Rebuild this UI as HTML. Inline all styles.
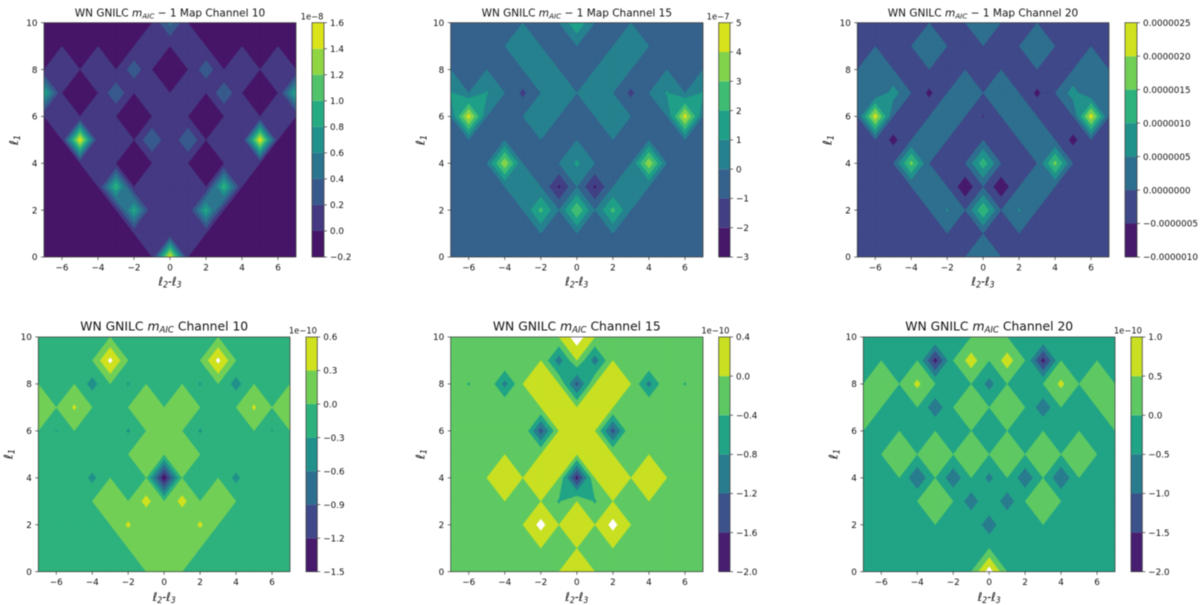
<!DOCTYPE html>
<html lang="en">
<head>
<meta charset="utf-8">
<title>WN GNILC maps</title>
<style>
html,body{margin:0;padding:0;background:#fff;width:1200px;height:605px;overflow:hidden}
svg{display:block;filter:blur(0.4px)}
text{font-family:"DejaVu Sans","Liberation Sans",sans-serif;fill:#111;white-space:pre}
.title-top{font-size:10.5px}
.title-bottom{font-size:12.35px}
.ax{font-size:12px;font-style:italic}
.off{font-size:8.4px}
.tick{font-size:8.8px}
</style>
</head>
<body>
<svg id="figure" width="1200" height="605" viewBox="0 0 1200 605" xmlns="http://www.w3.org/2000/svg">
  <defs id="clips"></defs>

  <g id="panel-0">
    <text class="title-top" x="170" y="16.7" text-anchor="middle">WN GNILC <tspan font-style="italic">m</tspan><tspan font-style="italic" font-size="7.3" dy="1.6">AIC</tspan><tspan dy="-1.6"> − 1 Map Channel 10</tspan></text>
    <text class="ax" x="170" y="285.5" text-anchor="middle" textLength="23" lengthAdjust="spacingAndGlyphs">ℓ<tspan font-size="8.4" dy="2">2</tspan><tspan dy="-2">-ℓ</tspan><tspan font-size="8.4" dy="2">3</tspan></text>
    <text class="ax" transform="translate(18,140) rotate(-90)" text-anchor="middle">ℓ<tspan font-size="8.4" dy="2">1</tspan></text>
    <text class="off" x="323.5" y="19.3" text-anchor="end">1e−8</text>
  </g>

  <g id="panel-1">
    <text class="title-top" x="576.8" y="16.7" text-anchor="middle">WN GNILC <tspan font-style="italic">m</tspan><tspan font-style="italic" font-size="7.3" dy="1.6">AIC</tspan><tspan dy="-1.6"> − 1 Map Channel 15</tspan></text>
    <text class="ax" x="576.8" y="285.5" text-anchor="middle" textLength="23" lengthAdjust="spacingAndGlyphs">ℓ<tspan font-size="8.4" dy="2">2</tspan><tspan dy="-2">-ℓ</tspan><tspan font-size="8.4" dy="2">3</tspan></text>
    <text class="ax" transform="translate(424.7,140) rotate(-90)" text-anchor="middle">ℓ<tspan font-size="8.4" dy="2">1</tspan></text>
    <text class="off" x="729.5" y="19.3" text-anchor="end">1e−7</text>
  </g>

  <g id="panel-2">
    <text class="title-top" x="983" y="16.7" text-anchor="middle">WN GNILC <tspan font-style="italic">m</tspan><tspan font-style="italic" font-size="7.3" dy="1.6">AIC</tspan><tspan dy="-1.6"> − 1 Map Channel 20</tspan></text>
    <text class="ax" x="983" y="285.5" text-anchor="middle" textLength="23" lengthAdjust="spacingAndGlyphs">ℓ<tspan font-size="8.4" dy="2">2</tspan><tspan dy="-2">-ℓ</tspan><tspan font-size="8.4" dy="2">3</tspan></text>
    <text class="ax" transform="translate(831.3,140) rotate(-90)" text-anchor="middle">ℓ<tspan font-size="8.4" dy="2">1</tspan></text>
  </g>

  <g id="panel-3">
    <text class="title-bottom" x="164.2" y="330.7" text-anchor="middle">WN GNILC <tspan font-style="italic">m</tspan><tspan font-style="italic" font-size="8.6" dy="1.9">AIC</tspan><tspan dy="-1.9"> Channel 10</tspan></text>
    <text class="ax" x="164.2" y="601" text-anchor="middle" textLength="23" lengthAdjust="spacingAndGlyphs">ℓ<tspan font-size="8.4" dy="2">2</tspan><tspan dy="-2">-ℓ</tspan><tspan font-size="8.4" dy="2">3</tspan></text>
    <text class="ax" transform="translate(12.3,454) rotate(-90)" text-anchor="middle">ℓ<tspan font-size="8.4" dy="2">1</tspan></text>
    <text class="off" x="317" y="333.3" text-anchor="end">1e−10</text>
  </g>

  <g id="panel-4">
    <text class="title-bottom" x="576.8" y="330.7" text-anchor="middle">WN GNILC <tspan font-style="italic">m</tspan><tspan font-style="italic" font-size="8.6" dy="1.9">AIC</tspan><tspan dy="-1.9"> Channel 15</tspan></text>
    <text class="ax" x="576.8" y="601" text-anchor="middle" textLength="23" lengthAdjust="spacingAndGlyphs">ℓ<tspan font-size="8.4" dy="2">2</tspan><tspan dy="-2">-ℓ</tspan><tspan font-size="8.4" dy="2">3</tspan></text>
    <text class="ax" transform="translate(424.7,454) rotate(-90)" text-anchor="middle">ℓ<tspan font-size="8.4" dy="2">1</tspan></text>
    <text class="off" x="729.5" y="333.3" text-anchor="end">1e−10</text>
  </g>

  <g id="panel-5">
    <text class="title-bottom" x="989.2" y="330.7" text-anchor="middle">WN GNILC <tspan font-style="italic">m</tspan><tspan font-style="italic" font-size="8.6" dy="1.9">AIC</tspan><tspan dy="-1.9"> Channel 20</tspan></text>
    <text class="ax" x="989.2" y="601" text-anchor="middle" textLength="23" lengthAdjust="spacingAndGlyphs">ℓ<tspan font-size="8.4" dy="2">2</tspan><tspan dy="-2">-ℓ</tspan><tspan font-size="8.4" dy="2">3</tspan></text>
    <text class="ax" transform="translate(837.3,454) rotate(-90)" text-anchor="middle">ℓ<tspan font-size="8.4" dy="2">1</tspan></text>
    <text class="off" x="1142" y="333.3" text-anchor="end">1e−10</text>
  </g>
</svg>

<script>
// Grid axes
const ell23Values = [-7,-6,-5,-4,-3,-2,-1,0,1,2,3,4,5,6,7];
const ell1Values = [0,1,2,3,4,5,6,7,8,9,10];
const xTickValues = [-6,-4,-2,0,2,4,6];
const xTickLabels = ["−6","−4","−2","0","2","4","6"];
const yTickValues = [0,2,4,6,8,10];
const yTickLabels = ["0","2","4","6","8","10"];

// Contour levels and colorbar labels
const levelsMap10 = [-0.2,0,0.2,0.4,0.6,0.8,1.0,1.2,1.4,1.6];
const labelsMap10 = ["−0.2","0.0","0.2","0.4","0.6","0.8","1.0","1.2","1.4","1.6"];
const levelsMap15 = [-3,-2,-1,0,1,2,3,4,5];
const labelsMap15 = ["−3","−2","−1","0","1","2","3","4","5"];
const levelsMap20 = [-1,-0.5,0,0.5,1,1.5,2,2.5];
const labelsMap20 = ["−0.0000010","−0.0000005","0.0000000","0.0000005","0.0000010","0.0000015","0.0000020","0.0000025"];
const levelsAic10 = [-1.5,-1.2,-0.9,-0.6,-0.3,0,0.3,0.6];
const labelsAic10 = ["−1.5","−1.2","−0.9","−0.6","−0.3","0.0","0.3","0.6"];
const levelsAic15 = [-2,-1.6,-1.2,-0.8,-0.4,0,0.4];
const labelsAic15 = ["−2.0","−1.6","−1.2","−0.8","−0.4","0.0","0.4"];
const levelsAic20 = [-2,-1.5,-1,-0.5,0,0.5,1];
const labelsAic20 = ["−2.0","−1.5","−1.0","−0.5","0.0","0.5","1.0"];

// Surface values; row index = l1 (0..10), column = l2-l3 (-7..7)
const valuesMap10 = [
 [0,0,0,0,0,0,0,1.55,0,0,0,0,0,0,0],
 [0,0,0,0,0,0,0.1,0,0.1,0,0,0,0,0,0],
 [0,0,0,0,0,0.88,0,0.1,0,0.88,0,0,0,0,0],
 [0,0,0,0,0.98,0,0.1,0,0.1,0,0.98,0,0,0,0],
 [0,0,0,0.1,0,-0.05,0,0.1,0,-0.05,0,0.1,0,0,0],
 [0,0,1.55,0,0.1,0,0.41,0,0.41,0,0.1,0,1.55,0,0],
 [0,0.1,0,0.1,0,-0.05,0,0.1,0,-0.05,0,0.1,0,0.1,0],
 [0.9,0,-0.05,0,0.37,0,0.1,0,0.1,0,0.37,0,-0.05,0,0.9],
 [0,0.1,0,0.1,0,0.33,0,-0.05,0,0.33,0,0.1,0,0.1,0],
 [-0.05,0,-0.05,0,-0.05,0,0.1,0,0.1,0,-0.05,0,-0.05,0,-0.05],
 [0,-0.05,0,-0.05,0,-0.05,0,0.47,0,-0.05,0,-0.05,0,-0.05,0]
];
const valuesMap15 = [
 [0,0,0,0,0,0,0,0,0,0,0,0,0,0,0],
 [0,0,0,0,0,0,0,0,0,0,0,0,0,0,0],
 [0,0,0,0,0,2.3,0,2.95,0,2.3,0,0,0,0,0],
 [0,0,0,0,0.5,0,-2.2,0,-2.2,0,0.5,0,0,0,0],
 [0,0,0,3.8,0,0,0,1.18,0,0,0,3.8,0,0,0],
 [0,0,0,0,0,0,0,0,0,0,0,0,0,0,0],
 [0,4.5,0,0,0,0.5,0,0,0,0.5,0,0,0,4.5,0],
 [1.1,0,1.1,0,-1.25,0,0.5,0,0.5,0,-1.25,0,1.1,0,1.1],
 [0,0,0,0,0,0.5,0,0,0,0.5,0,0,0,0,0],
 [0,0,0,0,0.5,0,0,0,0,0,0.5,0,0,0,0],
 [0,0,0,0,0,0,0,1.85,0,0,0,0,0,0,0]
];
const valuesMap20 = [
 [0,0,0,0,0,0,0,0.3,0,0,0,0,0,0,0],
 [0,0,0,0,0,0,0,0,0,0,0,0,0,0,0],
 [0,0,0,0,0,0.54,0,1.45,0,0.54,0,0,0,0,0],
 [0,0,0,0,0.3,0,-0.88,0,-0.88,0,0.3,0,0,0,0],
 [0,0,0,1.68,0,0,0,1.3,0,0,0,1.68,0,0,0],
 [0,0,-0.66,0,0.3,0,0,0,0,0,0.3,0,-0.66,0,0],
 [0,2.3,0,0,0,0.3,0,-0.53,0,0.3,0,0,0,2.3,0],
 [0.4,0,0.72,0,-0.62,0,0.3,0,0.3,0,-0.62,0,0.72,0,0.4],
 [0,0.3,0,0,0,0,0,0,0,0,0,0,0,0.3,0],
 [0,0,0,0,0.3,0,0,0,0,0,0.3,0,0,0,0],
 [0,0,0,0,0,0,0,0.3,0,0,0,0,0,0,0]
];
const valuesAic10 = [
 [0,0,0,0,0,0,0,0.15,0,0,0,0,0,0,0],
 [0,0,0,0,0,0,0.15,0,0.15,0,0,0,0,0,0],
 [0,0,0,0,0,0.35,0,0.15,0,0.35,0,0,0,0,0],
 [0,0,0,0,0.15,0,0.4,0,0.4,0,0.15,0,0,0,0],
 [0,0,0,-0.39,0,0,0,-1.45,0,0,0,-0.39,0,0,0],
 [0,0,0,0,0,0,0.15,0,0.15,0,0,0,0,0,0],
 [0,-0.32,0,0,0,-0.34,0,0.15,0,-0.34,0,0,0,-0.32,0],
 [0.15,0,0.34,0,0,0,0.15,0,0.15,0,0,0,0.34,0,0.15],
 [0,0,0,-0.43,0,-0.33,0,0,0,-0.33,0,-0.43,0,0,0],
 [0,0,0,0,0.68,0,0,0,0,0,0.68,0,0,0,0],
 [0,0,0,0,0,0,0,0,0,0,0,0,0,0,0]
];
const valuesAic15 = [
 [0,0,0,0,0,0,0,0.2,0,0,0,0,0,0,0],
 [0,0,0,0,0,0,0,0,0,0,0,0,0,0,0],
 [0,0,0,0,0,0.53,0,0.2,0,0.53,0,0,0,0,0],
 [0,0,0,0,0,0,-0.45,0,-0.45,0,0,0,0,0,0],
 [0,0,0,0.2,0,0.2,0,-1.8,0,0.2,0,0.2,0,0,0],
 [0,0,0,0,0,0,0.2,0,0.2,0,0,0,0,0,0],
 [0,0,0,0,0,-1.4,0,0.2,0,-1.4,0,0,0,0,0],
 [0,0,0,0,0,0,0.2,0,0.2,0,0,0,0,0,0],
 [0,-0.44,0,-0.95,0,0.2,0,-1.35,0,0.2,0,-0.95,0,-0.44,0],
 [0,0,0,0,0,0,-1.03,0,-1.03,0,0,0,0,0,0],
 [0,0,0,0,0,0,0,0.63,0,0,0,0,0,0,0]
];
const valuesAic20 = [
 [0,0,0,0,0,0,0,1.27,0,0,0,0,0,0,0],
 [0,0,0,0,0,0,0,0,0,0,0,0,0,0,0],
 [0,0,0,0,0,0,0,-0.86,0,0,0,0,0,0,0],
 [0,0,0,0,0.2,0,-0.83,0,-0.83,0,0.2,0,0,0,0],
 [0,0,0,-0.97,0,-0.88,0,-0.64,0,-0.88,0,-0.97,0,0,0],
 [0,0,0.2,0,0.2,0,0.2,0,0.2,0,0.2,0,0.2,0,0],
 [0,0,0,0,0,0,0,0,0,0,0,0,0,0,0],
 [0.2,0,0,0,-0.86,0,0.2,0,0.2,0,-0.86,0,0,0,0.2],
 [0,0.2,0,0.61,0,0,0,-0.68,0,0,0,0.61,0,0.2,0],
 [0,0,0,0,-1.72,0,0.75,0,0.75,0,-1.72,0,0,0,0],
 [0,0,0,0,0,0,0,0.2,0,0,0,0,0,0,0]
];

// Viridis colormap stops, evenly spaced on 0..1
const viridisStops = [[68,1,84],[71,19,101],[72,36,117],[70,52,128],[65,68,135],[59,82,139],[53,95,141],[47,108,142],[42,120,142],[37,132,142],[33,145,140],[30,156,137],[34,168,132],[47,180,124],[68,191,112],[94,201,98],[122,209,81],[155,217,60],[189,223,38],[223,227,24],[253,231,37]];

const panels = [
 {values:valuesMap10, levels:levelsMap10, labels:labelsMap10, box:[44,296,22.7,257], bar:[312,324]},
 {values:valuesMap15, levels:levelsMap15, labels:labelsMap15, box:[450.7,703,22.7,257], bar:[718.7,730]},
 {values:valuesMap20, levels:levelsMap20, labels:labelsMap20, box:[857.3,1109,22.7,257], bar:[1125,1137]},
 {values:valuesAic10, levels:levelsAic10, labels:labelsAic10, box:[38.3,290,337,571.7], bar:[306,317.3]},
 {values:valuesAic15, levels:levelsAic15, labels:labelsAic15, box:[450.7,703,337,571.7], bar:[718.7,730]},
 {values:valuesAic20, levels:levelsAic20, labels:labelsAic20, box:[863.3,1115,337,571.7], bar:[1131,1142.3]}
];

const NS = 'http://www.w3.org/2000/svg';
function make(tag, parent){
  const n = document.createElementNS(NS, tag);
  parent.appendChild(n);
  return n;
}
function viridis(t){
  const p = Math.max(0, Math.min(1, t)) * (viridisStops.length - 1);
  const i = Math.min(viridisStops.length - 2, Math.floor(p));
  const f = p - i;
  const a = viridisStops[i], b = viridisStops[i + 1];
  return 'rgb(' + [0,1,2].map(k => Math.round(a[k] + (b[k] - a[k]) * f)).join(',') + ')';
}
// Region z > level inside one grid cell, with linear edge crossings
function cellPolygons(c, level){
  const up = c.map(p => p.z > level);
  const n = up.filter(Boolean).length;
  if (n === 0) return [];
  const cross = (a, b) => {
    const t = (level - a.z) / (b.z - a.z);
    return {x: a.x + (b.x - a.x) * t, y: a.y + (b.y - a.y) * t};
  };
  const saddle = n === 2 && up[0] === up[2];
  const centre = (c[0].z + c[1].z + c[2].z + c[3].z) / 4;
  if (saddle && centre <= level) {
    const out = [];
    for (let i = 0; i < 4; i++) {
      if (!up[i]) continue;
      const prev = c[(i + 3) % 4], next = c[(i + 1) % 4];
      out.push([cross(prev, c[i]), c[i], cross(c[i], next)]);
    }
    return out;
  }
  const poly = [];
  for (let i = 0; i < 4; i++) {
    const a = c[i], b = c[(i + 1) % 4];
    if (up[i]) poly.push(a);
    if (up[i] !== up[(i + 1) % 4]) poly.push(cross(a, b));
  }
  return [poly];
}

const clips = document.getElementById('clips');
panels.forEach((panel, idx) => {
  const g = document.getElementById('panel-' + idx);
  const [L, R, T, B] = panel.box;
  const [CL, CR] = panel.bar;
  const xMin = ell23Values[0], xMax = ell23Values[ell23Values.length - 1];
  const yMin = ell1Values[0], yMax = ell1Values[ell1Values.length - 1];
  const levels = panel.levels;
  const lo = levels[0], hi = levels[levels.length - 1];
  const xScale = v => L + (v - xMin) / (xMax - xMin) * (R - L);
  const yScale = v => B - (v - yMin) / (yMax - yMin) * (B - T);
  const barScale = v => B - (v - lo) / (hi - lo) * (B - T);
  const bandColor = i => viridis(((levels[i] + levels[i + 1]) / 2 - lo) / (hi - lo));

  const clip = make('clipPath', clips);
  clip.setAttribute('id', 'clip-' + idx);
  const clipRect = make('rect', clip);
  clipRect.setAttribute('x', L);
  clipRect.setAttribute('y', T);
  clipRect.setAttribute('width', R - L);
  clipRect.setAttribute('height', B - T);

  const surface = make('g', g);
  
  
  surface.setAttribute('clip-path', 'url(#clip-' + idx + ')');

  // Painter's order: each layer covers everything above its level
  levels.forEach((level, li) => {
    let d = '';
    for (let r = 0; r < ell1Values.length - 1; r++) {
      for (let q = 0; q < ell23Values.length - 1; q++) {
        const corner = (rr, qq) => ({x: xScale(ell23Values[qq]), y: yScale(ell1Values[rr]), z: panel.values[rr][qq]});
        const cell = [corner(r, q), corner(r, q + 1), corner(r + 1, q + 1), corner(r + 1, q)];
        cellPolygons(cell, level).forEach(poly => {
          d += 'M' + poly.map(p => p.x.toFixed(2) + ' ' + p.y.toFixed(2)).join('L') + 'Z';
        });
      }
    }
    if (!d) return;
    const color = li < levels.length - 1 ? bandColor(li) : '#ffffff';
    const path = make('path', surface);
    
    
    path.setAttribute('d', d);
    path.setAttribute('fill', color);
    path.setAttribute('stroke', color);
    path.setAttribute('stroke-width', '0.3');
    path.setAttribute('stroke-linejoin', 'round');
  });

  const frame = make('rect', g);
  
  
  frame.setAttribute('x', L);
  frame.setAttribute('y', T);
  frame.setAttribute('width', R - L);
  frame.setAttribute('height', B - T);
  frame.setAttribute('fill', 'none');
  frame.setAttribute('stroke', '#333');
  frame.setAttribute('stroke-width', '0.7');

  xTickValues.forEach((v, i) => {
    const tick = make('line', g);
    
    
    tick.setAttribute('x1', xScale(v));
    tick.setAttribute('x2', xScale(v));
    tick.setAttribute('y1', B);
    tick.setAttribute('y2', B + 3);
    tick.setAttribute('stroke', '#333');
    tick.setAttribute('stroke-width', '0.7');
    const label = make('text', g);
    
    
    label.setAttribute('class', 'tick');
    label.setAttribute('x', xScale(v));
    label.setAttribute('y', B + 13.5);
    label.setAttribute('text-anchor', 'middle');
    label.textContent = xTickLabels[i];
  });

  yTickValues.forEach((v, i) => {
    const tick = make('line', g);
    
    
    tick.setAttribute('x1', L - 3);
    tick.setAttribute('x2', L);
    tick.setAttribute('y1', yScale(v));
    tick.setAttribute('y2', yScale(v));
    tick.setAttribute('stroke', '#333');
    tick.setAttribute('stroke-width', '0.7');
    const label = make('text', g);
    
    
    label.setAttribute('class', 'tick');
    label.setAttribute('x', L - 6.5);
    label.setAttribute('y', yScale(v) + 3.2);
    label.setAttribute('text-anchor', 'end');
    label.textContent = yTickLabels[i];
  });

  for (let i = 0; i < levels.length - 1; i++) {
    const seg = make('rect', g);
    
    
    seg.setAttribute('x', CL);
    seg.setAttribute('y', barScale(levels[i + 1]));
    seg.setAttribute('width', CR - CL);
    seg.setAttribute('height', barScale(levels[i]) - barScale(levels[i + 1]));
    seg.setAttribute('fill', bandColor(i));
  }
  const barFrame = make('rect', g);
  
  
  barFrame.setAttribute('x', CL);
  barFrame.setAttribute('y', T);
  barFrame.setAttribute('width', CR - CL);
  barFrame.setAttribute('height', B - T);
  barFrame.setAttribute('fill', 'none');
  barFrame.setAttribute('stroke', '#333');
  barFrame.setAttribute('stroke-width', '0.7');

  levels.forEach((level, i) => {
    const tick = make('line', g);
    
    
    tick.setAttribute('x1', CR);
    tick.setAttribute('x2', CR + 3);
    tick.setAttribute('y1', barScale(level));
    tick.setAttribute('y2', barScale(level));
    tick.setAttribute('stroke', '#333');
    tick.setAttribute('stroke-width', '0.7');
    const label = make('text', g);
    
    
    label.setAttribute('class', 'tick');
    label.setAttribute('x', CR + 6);
    label.setAttribute('y', barScale(level) + 3.2);
    label.textContent = panel.labels[i];
  });
});
</script>
</body>
</html>
